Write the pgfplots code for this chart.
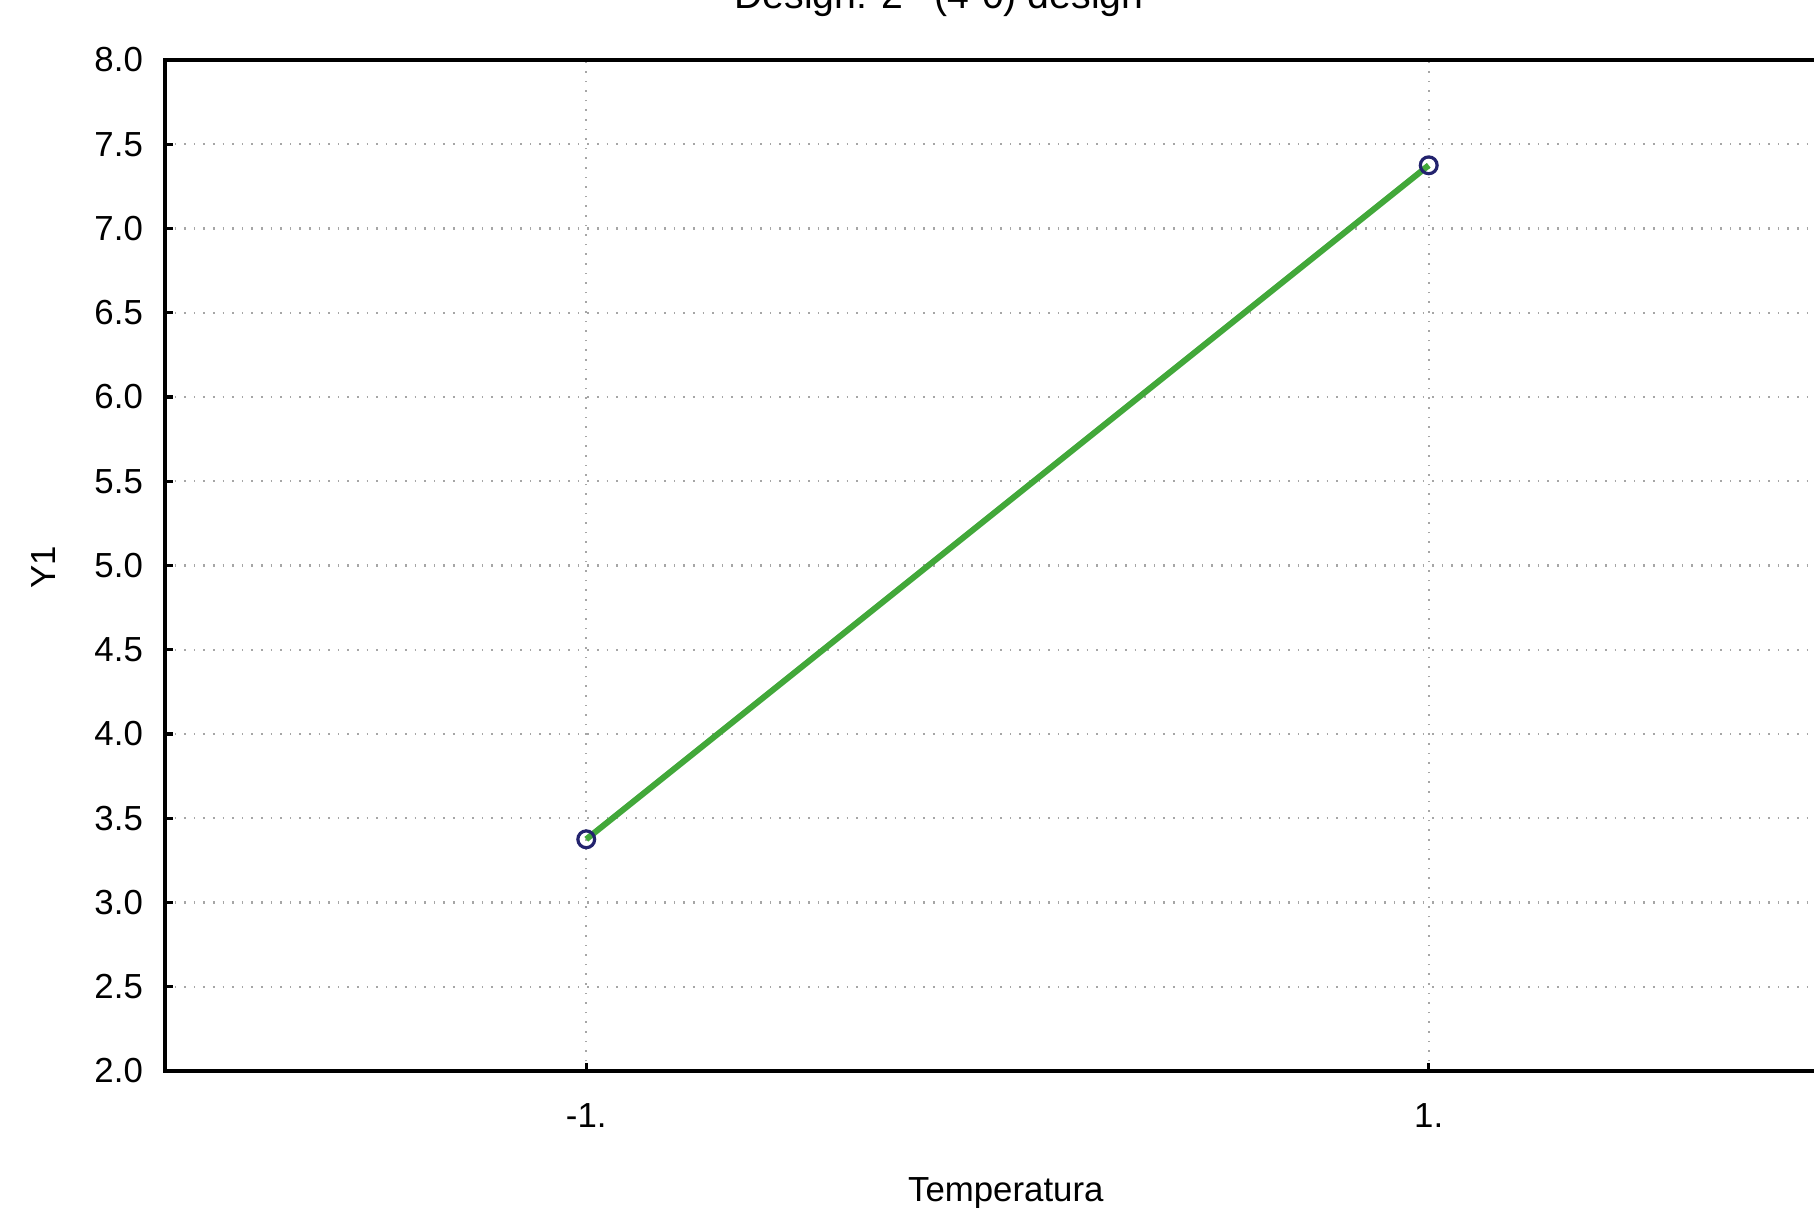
\documentclass[border=0pt]{standalone}
\usepackage{fontspec}
\setmainfont{Liberation Sans}
\usepackage{pgfplots}
\pgfplotsset{compat=1.18}
\definecolor{linegreen}{RGB}{66,168,58}
\definecolor{marknavy}{RGB}{35,35,110}
\newcommand{\chartfont}{\fontsize{8.7pt}{10pt}\selectfont}

\begin{document}
\begin{tikzpicture}
\begin{axis}[
    scale only axis,
    width=421.25pt,
    height=252.75pt,
    xmin=-2, xmax=2,
    ymin=2, ymax=8,
    xtick={-1,1},
    xticklabels={-1.,1.},
    ytick={2,2.5,3,3.5,4,4.5,5,5.5,6,6.5,7,7.5,8},
    /pgf/number format/assume math mode=true,
    yticklabel style={/pgf/number format/fixed, /pgf/number format/fixed zerofill, /pgf/number format/precision=1, xshift=-2pt},
    tick label style={font=\chartfont},
    xticklabel style={yshift=-4.5pt},
    tick pos=left,
    tick align=inside,
    major tick length=2pt,
    tick style={black, line width=0.8pt},
    axis line style={line width=0.9pt},
    grid=major,
    major grid style={dotted, gray!70, line width=0.6pt},
    xlabel={Temperatura},
    every axis x label/.style={at={(axis description cs:0.499,-0.1295)}, anchor=base, font=\chartfont},
    ylabel={Y1},
    every axis y label/.style={at={(axis description cs:-0.0718,0.4985)}, anchor=center, rotate=90, font=\chartfont},
]
% mean Y1 at the two levels of Temperatura
\addplot[color=linegreen, line width=1.5pt, mark=o, mark size=2.1pt,
    mark options={solid, draw=marknavy, fill=white, line width=0.8pt}]
    coordinates {
    (-1, 3.375)
    (1, 7.375)
};
\end{axis}
% title: the top of it lies above the picture's edge, as in the reference
\node[anchor=base, font=\fontsize{9.8pt}{11pt}\selectfont, inner sep=0pt] at (193.5pt,265.5pt) {Design: 2**(4-0) design};
\pgfresetboundingbox
\useasboundingbox (-41.25pt,-34.25pt) rectangle (412.25pt,267.75pt);
\end{tikzpicture}
\end{document}
